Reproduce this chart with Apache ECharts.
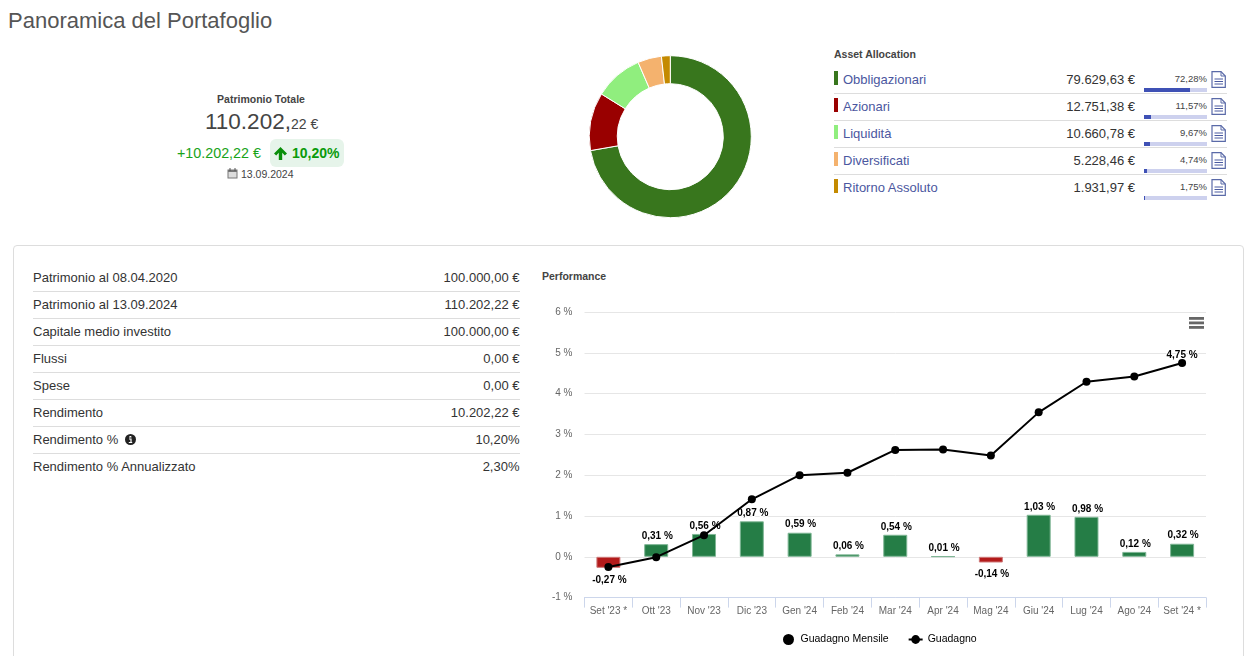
<!DOCTYPE html>
<html lang="it"><head><meta charset="utf-8"><title>Panoramica del Portafoglio</title>
<script src="https://cdn.jsdelivr.net/npm/echarts@6/dist/echarts.min.js"></script>
<style>
html,body{margin:0;padding:0;background:#fff;width:1258px;height:656px;overflow:hidden;font-family:"Liberation Sans",Arial,sans-serif;color:#333}
.a{position:absolute;white-space:nowrap;line-height:1}
.sep{position:absolute;height:1px;background:#ddd}
#donut{position:absolute;left:570px;top:37px;width:200px;height:200px}
#perf{position:absolute;left:530px;top:290px;width:728px;height:366px}
#card{position:absolute;left:13px;top:245px;width:1231px;height:430px;border:1px solid #ddd;border-radius:4px;box-sizing:border-box}
</style></head><body>
<div class="a" style="left:8px;top:10px;font-size:22px;color:#555">Panoramica del Portafoglio</div>
<div class="a" style="left:161px;width:200px;top:94px;text-align:center;font-size:10.5px;font-weight:bold;color:#444">Patrimonio Totale</div>
<div class="a" style="left:205px;top:111px;font-size:22.5px;color:#444">110.202,<span style="font-size:14px">22 €</span></div>
<div class="a" style="left:177px;top:146px;font-size:14.3px;color:#19a319">+10.202,22 €</div>
<div class="a" style="left:270px;top:139px;width:74px;height:28px;background:#e6f4ea;border-radius:6px"></div>
<svg class="a" style="left:273px;top:146px" width="15" height="15" viewBox="0 0 15 15"><path d="M7.5 1 L14 7.5 L11.8 9.5 L9.2 6.8 V14 H5.8 V6.8 L3.2 9.5 L1 7.5 Z" fill="#0a8f0a"/></svg>
<div class="a" style="left:292px;top:146px;font-size:14px;font-weight:bold;color:#0a9b0a">10,20%</div>
<svg class="a" style="left:227px;top:168px" width="11" height="11" viewBox="0 0 11 11"><rect x="0.5" y="1.5" width="10" height="9" fill="#777"/><rect x="1.5" y="4" width="8" height="5.5" fill="#ddd"/><path d="M3 0v3M8 0v3" stroke="#555"/></svg>
<div class="a" style="left:241px;top:169px;font-size:10.5px;color:#444">13.09.2024</div>
<div id="donut"></div>
<div class="a" style="left:834px;top:49px;font-size:10.5px;font-weight:bold;color:#444">Asset Allocation</div>
<div id="assets"></div>
<div id="card"></div>
<div id="summary"></div>
<div class="a" style="left:542px;top:271px;font-size:10.5px;font-weight:bold;color:#444">Performance</div>
<div id="perf"></div>
<script>
const assetNames = ['Obbligazionari','Azionari','Liquidità','Diversificati','Ritorno Assoluto'];
const assetValues = [79629.63,12751.38,10660.78,5228.46,1931.97];
const assetPercents = [72.28,11.57,9.67,4.74,1.75];
const assetColors = ['#38761d','#990000','#90ee7e','#f4b26e','#c48a00'];

const summaryLabels = ['Patrimonio al 08.04.2020','Patrimonio al 13.09.2024','Capitale medio investito','Flussi','Spese','Rendimento','Rendimento %','Rendimento % Annualizzato'];
const summaryValues = ['100.000,00 €','110.202,22 €','100.000,00 €','0,00 €','0,00 €','10.202,22 €','10,20%','2,30%'];

const months = ["Set '23 *","Ott '23","Nov '23","Dic '23","Gen '24","Feb '24","Mar '24","Apr '24","Mag '24","Giu '24","Lug '24","Ago '24","Set '24 *"];
const monthlyGain = [-0.27,0.31,0.56,0.87,0.59,0.06,0.54,0.01,-0.14,1.03,0.98,0.12,0.32];
const cumulativeGain = [-0.25,-0.01,0.53,1.41,2.0,2.06,2.62,2.63,2.48,3.54,4.29,4.42,4.75];
const yTicks = [-1,0,1,2,3,4,5,6];

const it = v => v.toLocaleString('it-IT',{minimumFractionDigits:2,maximumFractionDigits:2,useGrouping:'always'});
const pct = v => v.toFixed(2).replace('.',',');
const docIcon = '<path d="M1 .7H10L14.3 5V16.3H1Z" fill="#fff" stroke="#5a6aa8" stroke-width="1.2"/><path d="M10 .7V5H14.3" fill="none" stroke="#5a6aa8"/><path d="M3.5 8H12M3.5 10.5H12M3.5 13H12" stroke="#4a5aa0"/>';

document.getElementById('assets').innerHTML = assetNames.map((n,i)=>{
  const y = 27*i;
  return `<div class="a" style="left:834px;top:${71+y}px;width:4px;height:14px;background:${assetColors[i]}"></div>
  <div class="a" style="left:843px;top:${73+y}px;font-size:13px;color:#4b57a0">${n}</div>
  <div class="a" style="left:1035px;width:100px;text-align:right;top:${73+y}px;font-size:13px;color:#333">${it(assetValues[i])} €</div>
  <div class="a" style="left:1144px;width:63px;text-align:right;top:${74+y}px;font-size:9.5px;color:#444">${pct(assetPercents[i])}%</div>
  <div class="a" style="left:1144px;top:${88+y}px;width:63px;height:3.5px;background:#cdd1ee"></div>
  <div class="a" style="left:1144px;top:${88+y}px;width:${63*assetPercents[i]/100}px;height:3.5px;background:#3f51b5"></div>
  <svg class="a" style="left:1211px;top:${71+y}px" width="16" height="17" viewBox="0 0 16 17">${docIcon}</svg>
  ${i<4?`<div class="sep" style="left:834px;width:393px;top:${93+y}px"></div>`:''}`;
}).join('');

document.getElementById('summary').innerHTML = summaryLabels.map((n,i)=>{
  const y = 27*i;
  const info = n==='Rendimento %' ? `<svg class="a" style="left:125px;top:${272+y}px" width="11" height="11" viewBox="0 0 11 11"><circle cx="5.5" cy="5.5" r="5.5" fill="#222"/><path d="M4 3h2.5M5.5 2v1M4 5h2v3M3.8 8.5h3.4" stroke="#fff" stroke-width="1.2" fill="none"/></svg>` : '';
  return `<div class="a" style="left:33px;top:${271+y}px;font-size:13px;color:#333">${n}</div>${info}
  <div class="a" style="left:360px;width:159.5px;text-align:right;top:${271+y}px;font-size:13px;color:#333">${summaryValues[i]}</div>
  ${i<7?`<div class="sep" style="left:33px;width:487px;top:${291+y}px"></div>`:''}`;
}).join('');

echarts.init(document.getElementById('donut'),null,{renderer:'canvas'}).setOption({
  animation:false,
  series:[{type:'pie',center:[100.3,99.7],radius:[53,81],startAngle:90,label:{show:false},labelLine:{show:false},silent:true,
    itemStyle:{borderColor:'#fff',borderWidth:1},
    data:assetNames.map((n,i)=>({name:n,value:assetValues[i],itemStyle:{color:assetColors[i]}}))}]
});

const labelStyle = {color:'#000',fontSize:10,fontWeight:'bold',fontFamily:'"Liberation Sans",Arial,sans-serif',textBorderColor:'#fff',textBorderWidth:2};
echarts.init(document.getElementById('perf')).setOption({
  animation:false,
  textStyle:{fontFamily:'"Liberation Sans",Arial,sans-serif'},
  grid:{left:54.5,right:52,top:22,height:285.6},
  legend:{bottom:6,left:248,itemGap:19,itemWidth:14,itemHeight:11,selectedMode:false,
    textStyle:{color:'#000',fontSize:10.5,fontWeight:'normal'},
    data:[{name:'Guadagno Mensile',icon:'circle',itemStyle:{color:'#000'}},{name:'Guadagno'}]},
  xAxis:{type:'category',data:months,axisLine:{onZero:false,lineStyle:{color:'#ccd6eb'}},
    axisTick:{show:true,length:10,lineStyle:{color:'#ccd6eb'}},
    axisLabel:{color:'#666',fontSize:10,margin:9,interval:0}},
  yAxis:{type:'value',min:yTicks[0],max:yTicks[yTicks.length-1],interval:1,
    axisLabel:{color:'#666',fontSize:10,margin:12,padding:[2,0,0,0],formatter:'{value} %'},
    axisLine:{show:false},axisTick:{show:false},splitLine:{lineStyle:{color:'#e6e6e6'}}},
  series:[
    {name:'Guadagno Mensile',type:'bar',barWidth:24,silent:true,z:2,
     data:monthlyGain.map(v=>({value:v,
       itemStyle:{color:v<0?'#b31b1b':'#257d46',borderColor:v<0?'#cf7a7a':'#7fb695',borderWidth:1},
       label:{show:true,position:v<0?'bottom':'top',distance:v<0?7:3,offset:[1,0],formatter:pct(v)+' %',...labelStyle}}))},
    {name:'Guadagno',type:'line',z:3,silent:true,symbol:'circle',symbolSize:8,
     lineStyle:{color:'#000',width:2},itemStyle:{color:'#000'},
     data:cumulativeGain.map((v,i)=>({value:v,label:{show:i===cumulativeGain.length-1,position:'top',distance:0,offset:[0,1],formatter:pct(v)+' %',...labelStyle}}))}
  ],
  graphic:[0,4.5,9].map(d=>({type:'rect',left:659,top:27+d,shape:{width:15,height:2.8},style:{fill:'#666'},silent:true}))
});
</script></body></html>
